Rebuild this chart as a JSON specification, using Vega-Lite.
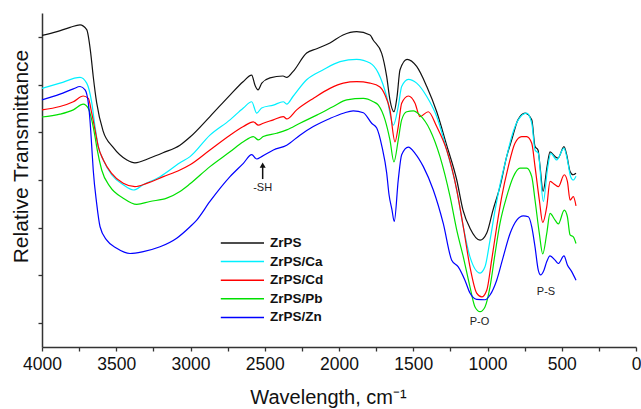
{
  "$schema": "https://vega.github.io/schema/vega-lite/v6.json",
  "width": 594,
  "height": 334,
  "autosize": {"type": "none"},
  "padding": {"left": 42, "top": 13, "right": 5, "bottom": 62},
  "background": "white",
  "config": {
    "view": {"stroke": null},
    "font": "Liberation Sans",
    "axis": {"grid": false, "domainColor": "#333333", "domainWidth": 1.5, "tickColor": "#333333", "tickWidth": 1.3, "labelFont": "Liberation Sans", "titleFont": "Liberation Sans", "labelColor": "#111111", "titleColor": "#111111", "titleFontWeight": "normal"}
  },
  "datasets": {
    "spectra": [
      {"s":"ZrPS","w":4000,"t":6.53},{"s":"ZrPS","w":3899,"t":6.61},{"s":"ZrPS","w":3811,"t":6.70},{"s":"ZrPS","w":3744,"t":6.75},{"s":"ZrPS","w":3699,"t":6.65},{"s":"ZrPS","w":3672,"t":6.16},{"s":"ZrPS","w":3655,"t":5.67},{"s":"ZrPS","w":3632,"t":5.12},{"s":"ZrPS","w":3589,"t":4.53},{"s":"ZrPS","w":3522,"t":4.19},{"s":"ZrPS","w":3428,"t":3.92},{"s":"ZrPS","w":3374,"t":3.86},{"s":"ZrPS","w":3273,"t":3.96},{"s":"ZrPS","w":3185,"t":4.07},{"s":"ZrPS","w":3071,"t":4.23},{"s":"ZrPS","w":3003,"t":4.40},{"s":"ZrPS","w":2869,"t":4.83},{"s":"ZrPS","w":2734,"t":5.28},{"s":"ZrPS","w":2646,"t":5.56},{"s":"ZrPS","w":2588,"t":5.70},{"s":"ZrPS","w":2566,"t":5.49},{"s":"ZrPS","w":2545,"t":5.39},{"s":"ZrPS","w":2520,"t":5.53},{"s":"ZrPS","w":2465,"t":5.64},{"s":"ZrPS","w":2377,"t":5.68},{"s":"ZrPS","w":2352,"t":5.65},{"s":"ZrPS","w":2310,"t":5.77},{"s":"ZrPS","w":2218,"t":6.16},{"s":"ZrPS","w":2150,"t":6.25},{"s":"ZrPS","w":2061,"t":6.37},{"s":"ZrPS","w":1973,"t":6.54},{"s":"ZrPS","w":1881,"t":6.61},{"s":"ZrPS","w":1791,"t":6.54},{"s":"ZrPS","w":1771,"t":6.44},{"s":"ZrPS","w":1713,"t":6.16},{"s":"ZrPS","w":1679,"t":5.67},{"s":"ZrPS","w":1657,"t":5.18},{"s":"ZrPS","w":1630,"t":4.93},{"s":"ZrPS","w":1609,"t":5.25},{"s":"ZrPS","w":1589,"t":5.81},{"s":"ZrPS","w":1542,"t":6.03},{"s":"ZrPS","w":1477,"t":5.88},{"s":"ZrPS","w":1409,"t":5.46},{"s":"ZrPS","w":1342,"t":4.93},{"s":"ZrPS","w":1275,"t":4.23},{"s":"ZrPS","w":1207,"t":3.50},{"s":"ZrPS","w":1165,"t":2.87},{"s":"ZrPS","w":1118,"t":2.49},{"s":"ZrPS","w":1050,"t":2.24},{"s":"ZrPS","w":1005,"t":2.39},{"s":"ZrPS","w":963,"t":2.87},{"s":"ZrPS","w":916,"t":3.36},{"s":"ZrPS","w":871,"t":3.99},{"s":"ZrPS","w":837,"t":4.34},{"s":"ZrPS","w":795,"t":4.76},{"s":"ZrPS","w":747,"t":4.90},{"s":"ZrPS","w":702,"t":4.76},{"s":"ZrPS","w":680,"t":4.20},{"s":"ZrPS","w":660,"t":4.13},{"s":"ZrPS","w":646,"t":3.78},{"s":"ZrPS","w":626,"t":3.26},{"s":"ZrPS","w":599,"t":3.78},{"s":"ZrPS","w":579,"t":4.09},{"s":"ZrPS","w":545,"t":3.99},{"s":"ZrPS","w":525,"t":3.96},{"s":"ZrPS","w":485,"t":4.20},{"s":"ZrPS","w":467,"t":4.03},{"s":"ZrPS","w":444,"t":3.68},{"s":"ZrPS","w":424,"t":3.61},{"s":"ZrPS","w":404,"t":3.64},
      {"s":"ZrPS/Ca","w":4000,"t":5.42},{"s":"ZrPS/Ca","w":3879,"t":5.53},{"s":"ZrPS/Ca","w":3744,"t":5.65},{"s":"ZrPS/Ca","w":3699,"t":5.53},{"s":"ZrPS/Ca","w":3665,"t":5.12},{"s":"ZrPS/Ca","w":3643,"t":4.62},{"s":"ZrPS/Ca","w":3621,"t":4.20},{"s":"ZrPS/Ca","w":3587,"t":3.92},{"s":"ZrPS/Ca","w":3531,"t":3.61},{"s":"ZrPS/Ca","w":3453,"t":3.40},{"s":"ZrPS/Ca","w":3385,"t":3.29},{"s":"ZrPS/Ca","w":3318,"t":3.40},{"s":"ZrPS/Ca","w":3205,"t":3.57},{"s":"ZrPS/Ca","w":3071,"t":3.86},{"s":"ZrPS/Ca","w":3003,"t":3.99},{"s":"ZrPS/Ca","w":2869,"t":4.44},{"s":"ZrPS/Ca","w":2734,"t":4.76},{"s":"ZrPS/Ca","w":2644,"t":5.01},{"s":"ZrPS/Ca","w":2588,"t":5.14},{"s":"ZrPS/Ca","w":2554,"t":4.90},{"s":"ZrPS/Ca","w":2521,"t":5.01},{"s":"ZrPS/Ca","w":2442,"t":5.07},{"s":"ZrPS/Ca","w":2375,"t":5.14},{"s":"ZrPS/Ca","w":2352,"t":5.09},{"s":"ZrPS/Ca","w":2310,"t":5.25},{"s":"ZrPS/Ca","w":2218,"t":5.60},{"s":"ZrPS/Ca","w":2106,"t":5.81},{"s":"ZrPS/Ca","w":1993,"t":5.98},{"s":"ZrPS/Ca","w":1881,"t":6.03},{"s":"ZrPS/Ca","w":1791,"t":5.95},{"s":"ZrPS/Ca","w":1735,"t":5.74},{"s":"ZrPS/Ca","w":1679,"t":5.25},{"s":"ZrPS/Ca","w":1634,"t":4.65},{"s":"ZrPS/Ca","w":1601,"t":5.04},{"s":"ZrPS/Ca","w":1578,"t":5.46},{"s":"ZrPS/Ca","w":1533,"t":5.61},{"s":"ZrPS/Ca","w":1477,"t":5.53},{"s":"ZrPS/Ca","w":1409,"t":5.25},{"s":"ZrPS/Ca","w":1342,"t":4.83},{"s":"ZrPS/Ca","w":1275,"t":4.13},{"s":"ZrPS/Ca","w":1207,"t":3.29},{"s":"ZrPS/Ca","w":1163,"t":2.52},{"s":"ZrPS/Ca","w":1118,"t":1.89},{"s":"ZrPS/Ca","w":1050,"t":1.55},{"s":"ZrPS/Ca","w":1017,"t":1.68},{"s":"ZrPS/Ca","w":983,"t":2.24},{"s":"ZrPS/Ca","w":949,"t":2.87},{"s":"ZrPS/Ca","w":916,"t":3.40},{"s":"ZrPS/Ca","w":871,"t":3.99},{"s":"ZrPS/Ca","w":837,"t":4.41},{"s":"ZrPS/Ca","w":793,"t":4.76},{"s":"ZrPS/Ca","w":736,"t":4.90},{"s":"ZrPS/Ca","w":702,"t":4.69},{"s":"ZrPS/Ca","w":680,"t":4.13},{"s":"ZrPS/Ca","w":658,"t":4.06},{"s":"ZrPS/Ca","w":624,"t":3.05},{"s":"ZrPS/Ca","w":597,"t":3.71},{"s":"ZrPS/Ca","w":574,"t":4.06},{"s":"ZrPS/Ca","w":534,"t":3.92},{"s":"ZrPS/Ca","w":485,"t":4.17},{"s":"ZrPS/Ca","w":462,"t":3.92},{"s":"ZrPS/Ca","w":440,"t":3.57},{"s":"ZrPS/Ca","w":422,"t":3.50},{"s":"ZrPS/Ca","w":404,"t":3.58},
      {"s":"ZrPS/Cd","w":4000,"t":4.97},{"s":"ZrPS/Cd","w":3879,"t":5.04},{"s":"ZrPS/Cd","w":3789,"t":5.14},{"s":"ZrPS/Cd","w":3722,"t":5.26},{"s":"ZrPS/Cd","w":3688,"t":5.21},{"s":"ZrPS/Cd","w":3665,"t":4.90},{"s":"ZrPS/Cd","w":3643,"t":4.55},{"s":"ZrPS/Cd","w":3621,"t":4.20},{"s":"ZrPS/Cd","w":3587,"t":3.92},{"s":"ZrPS/Cd","w":3531,"t":3.64},{"s":"ZrPS/Cd","w":3453,"t":3.43},{"s":"ZrPS/Cd","w":3374,"t":3.36},{"s":"ZrPS/Cd","w":3295,"t":3.43},{"s":"ZrPS/Cd","w":3183,"t":3.57},{"s":"ZrPS/Cd","w":3071,"t":3.71},{"s":"ZrPS/Cd","w":3003,"t":3.82},{"s":"ZrPS/Cd","w":2869,"t":4.13},{"s":"ZrPS/Cd","w":2734,"t":4.44},{"s":"ZrPS/Cd","w":2644,"t":4.62},{"s":"ZrPS/Cd","w":2577,"t":4.72},{"s":"ZrPS/Cd","w":2543,"t":4.65},{"s":"ZrPS/Cd","w":2510,"t":4.69},{"s":"ZrPS/Cd","w":2442,"t":4.76},{"s":"ZrPS/Cd","w":2375,"t":4.83},{"s":"ZrPS/Cd","w":2352,"t":4.78},{"s":"ZrPS/Cd","w":2285,"t":4.97},{"s":"ZrPS/Cd","w":2173,"t":5.21},{"s":"ZrPS/Cd","w":2061,"t":5.42},{"s":"ZrPS/Cd","w":1971,"t":5.53},{"s":"ZrPS/Cd","w":1881,"t":5.56},{"s":"ZrPS/Cd","w":1791,"t":5.53},{"s":"ZrPS/Cd","w":1724,"t":5.45},{"s":"ZrPS/Cd","w":1690,"t":5.28},{"s":"ZrPS/Cd","w":1657,"t":4.97},{"s":"ZrPS/Cd","w":1623,"t":4.30},{"s":"ZrPS/Cd","w":1601,"t":4.62},{"s":"ZrPS/Cd","w":1578,"t":5.11},{"s":"ZrPS/Cd","w":1533,"t":5.26},{"s":"ZrPS/Cd","w":1488,"t":5.11},{"s":"ZrPS/Cd","w":1455,"t":4.83},{"s":"ZrPS/Cd","w":1399,"t":4.93},{"s":"ZrPS/Cd","w":1342,"t":4.62},{"s":"ZrPS/Cd","w":1275,"t":4.13},{"s":"ZrPS/Cd","w":1207,"t":3.29},{"s":"ZrPS/Cd","w":1163,"t":2.52},{"s":"ZrPS/Cd","w":1118,"t":1.68},{"s":"ZrPS/Cd","w":1073,"t":1.13},{"s":"ZrPS/Cd","w":1039,"t":1.05},{"s":"ZrPS/Cd","w":1005,"t":1.19},{"s":"ZrPS/Cd","w":972,"t":1.82},{"s":"ZrPS/Cd","w":938,"t":2.52},{"s":"ZrPS/Cd","w":904,"t":3.15},{"s":"ZrPS/Cd","w":860,"t":3.78},{"s":"ZrPS/Cd","w":815,"t":4.27},{"s":"ZrPS/Cd","w":770,"t":4.41},{"s":"ZrPS/Cd","w":736,"t":4.41},{"s":"ZrPS/Cd","w":702,"t":4.27},{"s":"ZrPS/Cd","w":680,"t":3.78},{"s":"ZrPS/Cd","w":651,"t":3.08},{"s":"ZrPS/Cd","w":628,"t":2.61},{"s":"ZrPS/Cd","w":601,"t":2.94},{"s":"ZrPS/Cd","w":579,"t":3.47},{"s":"ZrPS/Cd","w":545,"t":3.40},{"s":"ZrPS/Cd","w":523,"t":3.36},{"s":"ZrPS/Cd","w":483,"t":3.61},{"s":"ZrPS/Cd","w":462,"t":3.47},{"s":"ZrPS/Cd","w":444,"t":3.08},{"s":"ZrPS/Cd","w":422,"t":3.15},{"s":"ZrPS/Cd","w":404,"t":2.96},
      {"s":"ZrPS/Pb","w":4000,"t":4.82},{"s":"ZrPS/Pb","w":3879,"t":4.88},{"s":"ZrPS/Pb","w":3789,"t":4.97},{"s":"ZrPS/Pb","w":3722,"t":5.09},{"s":"ZrPS/Pb","w":3688,"t":5.00},{"s":"ZrPS/Pb","w":3665,"t":4.76},{"s":"ZrPS/Pb","w":3643,"t":4.41},{"s":"ZrPS/Pb","w":3628,"t":4.13},{"s":"ZrPS/Pb","w":3598,"t":3.71},{"s":"ZrPS/Pb","w":3542,"t":3.36},{"s":"ZrPS/Pb","w":3453,"t":3.12},{"s":"ZrPS/Pb","w":3362,"t":2.99},{"s":"ZrPS/Pb","w":3273,"t":3.05},{"s":"ZrPS/Pb","w":3160,"t":3.12},{"s":"ZrPS/Pb","w":3071,"t":3.26},{"s":"ZrPS/Pb","w":3003,"t":3.42},{"s":"ZrPS/Pb","w":2869,"t":3.78},{"s":"ZrPS/Pb","w":2734,"t":4.09},{"s":"ZrPS/Pb","w":2644,"t":4.30},{"s":"ZrPS/Pb","w":2577,"t":4.41},{"s":"ZrPS/Pb","w":2543,"t":4.34},{"s":"ZrPS/Pb","w":2510,"t":4.41},{"s":"ZrPS/Pb","w":2420,"t":4.48},{"s":"ZrPS/Pb","w":2352,"t":4.55},{"s":"ZrPS/Pb","w":2263,"t":4.69},{"s":"ZrPS/Pb","w":2150,"t":4.86},{"s":"ZrPS/Pb","w":2038,"t":5.04},{"s":"ZrPS/Pb","w":1948,"t":5.18},{"s":"ZrPS/Pb","w":1836,"t":5.21},{"s":"ZrPS/Pb","w":1769,"t":5.14},{"s":"ZrPS/Pb","w":1735,"t":5.07},{"s":"ZrPS/Pb","w":1690,"t":4.76},{"s":"ZrPS/Pb","w":1657,"t":4.34},{"s":"ZrPS/Pb","w":1630,"t":3.88},{"s":"ZrPS/Pb","w":1601,"t":4.34},{"s":"ZrPS/Pb","w":1578,"t":4.76},{"s":"ZrPS/Pb","w":1544,"t":4.93},{"s":"ZrPS/Pb","w":1500,"t":4.95},{"s":"ZrPS/Pb","w":1455,"t":4.86},{"s":"ZrPS/Pb","w":1387,"t":4.55},{"s":"ZrPS/Pb","w":1320,"t":3.99},{"s":"ZrPS/Pb","w":1252,"t":3.15},{"s":"ZrPS/Pb","w":1207,"t":2.45},{"s":"ZrPS/Pb","w":1163,"t":1.89},{"s":"ZrPS/Pb","w":1118,"t":1.26},{"s":"ZrPS/Pb","w":1084,"t":0.84},{"s":"ZrPS/Pb","w":1050,"t":0.74},{"s":"ZrPS/Pb","w":1017,"t":0.84},{"s":"ZrPS/Pb","w":983,"t":1.26},{"s":"ZrPS/Pb","w":949,"t":1.96},{"s":"ZrPS/Pb","w":916,"t":2.59},{"s":"ZrPS/Pb","w":871,"t":3.15},{"s":"ZrPS/Pb","w":826,"t":3.57},{"s":"ZrPS/Pb","w":781,"t":3.75},{"s":"ZrPS/Pb","w":736,"t":3.75},{"s":"ZrPS/Pb","w":702,"t":3.57},{"s":"ZrPS/Pb","w":680,"t":3.08},{"s":"ZrPS/Pb","w":651,"t":2.38},{"s":"ZrPS/Pb","w":628,"t":1.95},{"s":"ZrPS/Pb","w":601,"t":2.38},{"s":"ZrPS/Pb","w":579,"t":2.80},{"s":"ZrPS/Pb","w":545,"t":2.66},{"s":"ZrPS/Pb","w":523,"t":2.58},{"s":"ZrPS/Pb","w":483,"t":2.87},{"s":"ZrPS/Pb","w":462,"t":2.73},{"s":"ZrPS/Pb","w":444,"t":2.35},{"s":"ZrPS/Pb","w":422,"t":2.31},{"s":"ZrPS/Pb","w":404,"t":2.17},
      {"s":"ZrPS/Zn","w":4000,"t":5.18},{"s":"ZrPS/Zn","w":3879,"t":5.30},{"s":"ZrPS/Zn","w":3789,"t":5.41},{"s":"ZrPS/Zn","w":3744,"t":5.46},{"s":"ZrPS/Zn","w":3710,"t":5.39},{"s":"ZrPS/Zn","w":3688,"t":5.11},{"s":"ZrPS/Zn","w":3677,"t":4.76},{"s":"ZrPS/Zn","w":3665,"t":4.20},{"s":"ZrPS/Zn","w":3655,"t":3.71},{"s":"ZrPS/Zn","w":3632,"t":3.01},{"s":"ZrPS/Zn","w":3609,"t":2.52},{"s":"ZrPS/Zn","w":3564,"t":2.24},{"s":"ZrPS/Zn","w":3497,"t":2.07},{"s":"ZrPS/Zn","w":3407,"t":1.96},{"s":"ZrPS/Zn","w":3318,"t":2.00},{"s":"ZrPS/Zn","w":3205,"t":2.10},{"s":"ZrPS/Zn","w":3093,"t":2.28},{"s":"ZrPS/Zn","w":3003,"t":2.52},{"s":"ZrPS/Zn","w":2958,"t":2.66},{"s":"ZrPS/Zn","w":2869,"t":3.05},{"s":"ZrPS/Zn","w":2734,"t":3.57},{"s":"ZrPS/Zn","w":2644,"t":3.85},{"s":"ZrPS/Zn","w":2588,"t":4.03},{"s":"ZrPS/Zn","w":2554,"t":3.94},{"s":"ZrPS/Zn","w":2521,"t":3.99},{"s":"ZrPS/Zn","w":2442,"t":4.13},{"s":"ZrPS/Zn","w":2352,"t":4.23},{"s":"ZrPS/Zn","w":2263,"t":4.44},{"s":"ZrPS/Zn","w":2173,"t":4.62},{"s":"ZrPS/Zn","w":2061,"t":4.79},{"s":"ZrPS/Zn","w":1971,"t":4.90},{"s":"ZrPS/Zn","w":1904,"t":4.95},{"s":"ZrPS/Zn","w":1836,"t":4.91},{"s":"ZrPS/Zn","w":1780,"t":4.69},{"s":"ZrPS/Zn","w":1746,"t":4.59},{"s":"ZrPS/Zn","w":1710,"t":4.19},{"s":"ZrPS/Zn","w":1679,"t":3.65},{"s":"ZrPS/Zn","w":1663,"t":3.19},{"s":"ZrPS/Zn","w":1643,"t":2.87},{"s":"ZrPS/Zn","w":1628,"t":2.63},{"s":"ZrPS/Zn","w":1601,"t":3.50},{"s":"ZrPS/Zn","w":1578,"t":4.03},{"s":"ZrPS/Zn","w":1533,"t":4.19},{"s":"ZrPS/Zn","w":1488,"t":4.06},{"s":"ZrPS/Zn","w":1432,"t":3.78},{"s":"ZrPS/Zn","w":1365,"t":3.29},{"s":"ZrPS/Zn","w":1298,"t":2.59},{"s":"ZrPS/Zn","w":1241,"t":1.82},{"s":"ZrPS/Zn","w":1197,"t":1.68},{"s":"ZrPS/Zn","w":1152,"t":1.40},{"s":"ZrPS/Zn","w":1118,"t":1.13},{"s":"ZrPS/Zn","w":1073,"t":1.00},{"s":"ZrPS/Zn","w":1017,"t":0.99},{"s":"ZrPS/Zn","w":983,"t":1.09},{"s":"ZrPS/Zn","w":938,"t":1.40},{"s":"ZrPS/Zn","w":894,"t":1.89},{"s":"ZrPS/Zn","w":848,"t":2.38},{"s":"ZrPS/Zn","w":803,"t":2.66},{"s":"ZrPS/Zn","w":759,"t":2.75},{"s":"ZrPS/Zn","w":725,"t":2.73},{"s":"ZrPS/Zn","w":702,"t":2.52},{"s":"ZrPS/Zn","w":680,"t":2.10},{"s":"ZrPS/Zn","w":658,"t":1.61},{"s":"ZrPS/Zn","w":642,"t":1.51},{"s":"ZrPS/Zn","w":620,"t":1.61},{"s":"ZrPS/Zn","w":601,"t":1.79},{"s":"ZrPS/Zn","w":579,"t":1.91},{"s":"ZrPS/Zn","w":545,"t":1.82},{"s":"ZrPS/Zn","w":523,"t":1.75},{"s":"ZrPS/Zn","w":485,"t":1.91},{"s":"ZrPS/Zn","w":462,"t":1.72},{"s":"ZrPS/Zn","w":433,"t":1.58},{"s":"ZrPS/Zn","w":404,"t":1.40}
    ],
    "notes": [
      {"w": 2514, "t": 3.26, "label": "-SH"},
      {"w": 1054, "t": 0.46, "label": "P-O"},
      {"w": 606, "t": 1.09, "label": "P-S"}
    ],
    "arrow": [
      {"w": 2514, "t": 3.52, "t2": 3.78}
    ],
    "arrowhead": [
      {"w": 2514, "t": 3.81}
    ]
  },
  "encoding": {
    "x": {
      "field": "w", "type": "quantitative",
      "scale": {"domain": [0, 4000], "reverse": true, "nice": false, "zero": false},
      "axis": {
        "title": "Wavelength, cm⁻¹",
        "values": [4000, 3750, 3500, 3250, 3000, 2750, 2500, 2250, 2000, 1750, 1500, 1250, 1000, 750, 500, 250, 0],
        "labelExpr": "datum.value % 500 === 0 ? datum.value : ''",
        "labelFontSize": 17.5,
        "labelPadding": 4,
        "labelFlush": false,
        "labelOverlap": false,
        "tickSize": 4,
        "titleFontSize": 20,
        "titleX": 286,
        "titleY": 56,
        "titleAlign": "center",
        "titleBaseline": "alphabetic"
      }
    },
    "y": {
      "field": "t", "type": "quantitative",
      "scale": {"domain": [0, 7], "nice": false, "zero": false},
      "axis": {
        "title": "Relative Transmittance",
        "values": [0.5, 1.5, 2.5, 3.5, 4.5, 5.5, 6.5],
        "labels": false,
        "tickSize": 4,
        "titleFontSize": 21,
        "titleAngle": -90,
        "titleX": -15,
        "titleY": 143,
        "titleAlign": "center",
        "titleBaseline": "alphabetic"
      }
    }
  },
  "layer": [
    {
      "data": {"name": "spectra"},
      "mark": {"type": "line", "strokeWidth": 1.2, "interpolate": "monotone"},
      "encoding": {
        "color": {
          "field": "s", "type": "nominal",
          "scale": {"domain": ["ZrPS", "ZrPS/Ca", "ZrPS/Cd", "ZrPS/Pb", "ZrPS/Zn"], "range": ["#111111", "#00F0FF", "#FF0000", "#00E000", "#0000FF"]},
          "legend": {
            "orient": "none",
            "legendX": 205,
            "legendY": 221,
            "title": null,
            "padding": 0,
            "symbolType": "M-4.4,0H1",
            "symbolSize": 256,
            "symbolStrokeWidth": 1.5,
            "labelFont": "Liberation Sans",
            "labelFontSize": 13.5,
            "labelFontWeight": "bold",
            "labelColor": "#111111",
            "labelOffset": 5,
            "rowPadding": 2.6
          }
        }
      }
    },
    {
      "data": {"name": "arrow"},
      "mark": {"type": "rule", "color": "#111111", "strokeWidth": 1.5},
      "encoding": {"y2": {"field": "t2"}}
    },
    {
      "data": {"name": "arrowhead"},
      "mark": {"type": "point", "shape": "triangle-up", "filled": true, "color": "#111111", "size": 36, "opacity": 1}
    },
    {
      "data": {"name": "notes"},
      "mark": {"type": "text", "font": "Liberation Sans", "fontSize": 11, "color": "#222222", "align": "center", "baseline": "alphabetic"},
      "encoding": {"text": {"field": "label"}}
    }
  ]
}
